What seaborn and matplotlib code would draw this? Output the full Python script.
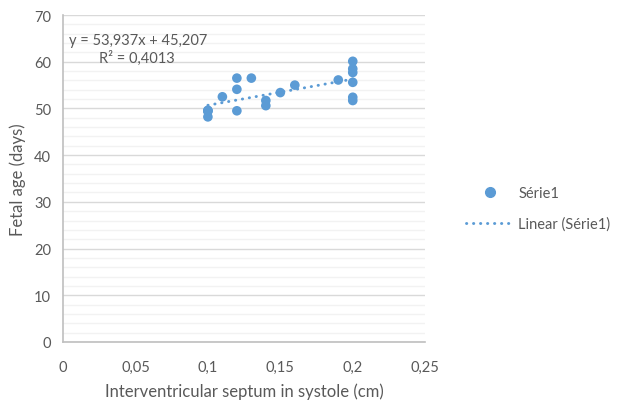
import seaborn as sns
import numpy as np
import pandas as pd
import matplotlib
matplotlib.use("Agg")
import matplotlib.pyplot as plt
from matplotlib.ticker import MultipleLocator, FuncFormatter
from matplotlib.lines import Line2D

# values (some markers overlap)
septum_cm = [0.10, 0.10, 0.10, 0.10, 0.11, 0.12, 0.12, 0.12, 0.13, 0.14, 0.14, 0.15,
             0.16, 0.19, 0.20, 0.20, 0.20, 0.20, 0.20, 0.20]
fetal_age = [49.6, 48.2, 49.5, 49.4, 52.5, 56.5, 54.1, 49.5, 56.5, 51.7, 50.6, 53.4,
             55.0, 56.1, 60.1, 58.5, 57.7, 55.6, 52.4, 51.7]
eq_text = "y = 53,937x + 45,207"
r2_text = "R² = 0,4013"

blue = "#5B9BD5"
grey_txt = "#595959"
dots = (0, (0.1, 2.3))

df = pd.DataFrame({"x": septum_cm, "y": fetal_age})

sns.set_style("white")
plt.rcParams["font.family"] = ["Lato", "DejaVu Sans"]

fig = plt.figure(figsize=(6.18, 4.02), dpi=100)
ax = fig.add_axes([0.102, 0.147, 0.586, 0.813])

sns.regplot(data=df, x="x", y="y", scatter=False, ci=None, ax=ax,
            line_kws=dict(color=blue, lw=2.1, linestyle=dots, dash_capstyle="round"))
sns.scatterplot(data=df, x="x", y="y", ax=ax, color=blue, s=48, edgecolor="none", zorder=3)

ax.set_xlim(0, 0.25)
ax.set_ylim(0, 70)
ax.xaxis.set_major_locator(MultipleLocator(0.05))
ax.yaxis.set_major_locator(MultipleLocator(10))
ax.yaxis.set_minor_locator(MultipleLocator(2))
ax.xaxis.set_major_formatter(FuncFormatter(lambda v, p: ("%g" % round(v, 2)).replace(".", ",")))

ax.grid(axis="y", which="major", color="#D9D9D9", lw=1)
ax.grid(axis="y", which="minor", color="#F2F2F2", lw=1)
ax.set_axisbelow(True)
for side in ["top", "right"]:
    ax.spines[side].set_visible(False)
for side in ["left", "bottom"]:
    ax.spines[side].set_color("#BFBFBF")
    ax.spines[side].set_linewidth(1.2)
ax.tick_params(axis="both", which="major", direction="out", length=5, color="#BFBFBF",
               labelcolor=grey_txt, labelsize=10.5, width=1.2)
ax.tick_params(axis="y", which="minor", length=0)
ax.tick_params(axis="x", pad=8)

ax.set_xlabel("Interventricular septum in systole (cm)", color=grey_txt, fontsize=12, labelpad=6)
ax.set_ylabel("Fetal age (days)", color=grey_txt, fontsize=12, labelpad=6)

ax.text(0.016, 0.925, eq_text, transform=ax.transAxes, color=grey_txt, fontsize=10.5, va="center")
ax.text(0.098, 0.870, r2_text, transform=ax.transAxes, color=grey_txt, fontsize=10.5, va="center")

handles = [Line2D([], [], marker="o", color=blue, lw=0, markersize=7),
           Line2D([], [], color=blue, lw=2.1, linestyle=dots, dash_capstyle="round")]
fig.legend(handles, ["Série1", "Linear (Série1)"], loc="center left",
           bbox_to_anchor=(0.754, 0.479), frameon=False, fontsize=10.5,
           labelcolor=grey_txt, handlelength=3.3, handletextpad=0.3,
           labelspacing=1.1, borderpad=0, borderaxespad=0)

fig.savefig("out.png", dpi=100)
